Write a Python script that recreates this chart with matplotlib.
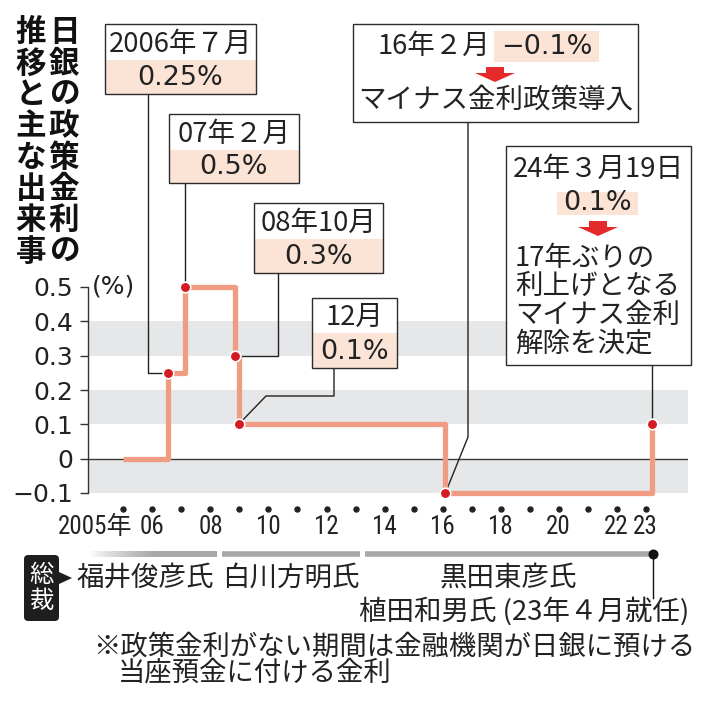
import numpy as np
import matplotlib
matplotlib.use('Agg')
import matplotlib.pyplot as plt
from matplotlib import font_manager
from matplotlib.patches import Rectangle, Polygon, FancyBboxPatch
from matplotlib.lines import Line2D
from matplotlib.transforms import blended_transform_factory

# ---------------- data ----------------
change_dates = [2005.0, 2006.54, 2007.13, 2008.83, 2008.97, 2016.1, 2024.2]
policy_rates = [0.0, 0.25, 0.5, 0.3, 0.1, -0.1, 0.1]
ytick_values = [-0.1, 0.0, 0.1, 0.2, 0.3, 0.4, 0.5]
ytick_labels = ['−0.1', '0', '0.1', '0.2', '0.3', '0.4', '0.5']
band_ranges = [(0.3, 0.4), (0.1, 0.2), (-0.1, 0.0)]
year_dots = list(range(2005, 2024))
xtick_years = [2005, 2006, 2008, 2010, 2012, 2014, 2016, 2018, 2020, 2022, 2023]
xtick_labels = ['2005年', '06', '08', '10', '12', '14', '16', '18', '20', '22', '23']
governors = ['福井俊彦氏', '白川方明氏', '黒田東彦氏']
term_starts = [2003.22, 2008.30, 2013.25]
term_ends = [2008.30, 2013.25, 2023.27]
ueda_start = 2023.27
ueda_label = '植田和男氏 (23年４月就任)'
ann_headers = ['2006年７月', '07年２月', '08年10月', '12月', '16年２月', '24年３月19日']
ann_values = ['0.25%', '0.5%', '0.3%', '0.1%', '−0.1%', '0.1%']
note_2016 = 'マイナス金利政策導入'
note_2024 = ['17年ぶりの', '利上げとなる', 'マイナス金利', '解除を決定']
title_right = '日銀の政策金利の'
title_left = '推移と主な出来事'
footnote = ['※政策金利がない期間は金融機関が日銀に預ける', '当座預金に付ける金利']

# ---------------- style ----------------
available = {f.name for f in font_manager.fontManager.ttflist}
narrow = next((n for n in ['Liberation Sans Narrow', 'Roboto Condensed', 'Liberation Sans']
               if n in available), 'DejaVu Sans')
CJK = ['Noto Sans CJK JP', 'DejaVu Sans']
NUM = ['DejaVu Sans']
XT = [narrow, 'Noto Sans CJK JP']
XT_SIZE = 18
LINE_C = '#F09C83'
DOT_C = '#D41A23'
BAND_C = '#E6E7E8'
PEACH = '#FBE3D6'
ARROW_C = '#E42A2A'
INK = '#222222'
TXT = 19.8

W, H = 705, 702
fig = plt.figure(figsize=(W / 100, H / 100), dpi=100)
fig.patch.set_facecolor('white')


def fx(px):
    return px / W


def fy(py):
    return 1 - py / H


AX_L, AX_R, AX_T, AX_B = 88, 688, 287, 493
PX_PER_YEAR, X2005 = 29.0, 123.5
lin_left = 2005 + (AX_L - X2005) / PX_PER_YEAR
lin_right = 2005 + (AX_R - X2005) / PX_PER_YEAR

K = 0.2


def fwd(t):
    t = np.asarray(t, dtype=float)
    return np.where(t <= 2023, t, 2023 + (t - 2023) * K)


def inv(u):
    u = np.asarray(u, dtype=float)
    return np.where(u <= 2023, u, 2023 + (u - 2023) / K)


ax = fig.add_axes([fx(AX_L), fy(AX_B), fx(AX_R) - fx(AX_L), fy(AX_T) - fy(AX_B)])
ax.set_xscale('function', functions=(fwd, inv))
ax.set_xlim(lin_left, float(inv(lin_right)))
ax.set_ylim(-0.1, 0.5)
ax.autoscale(False)

for lo, hi in band_ranges:
    ax.axhspan(lo, hi, color=BAND_C, lw=0, zorder=0)
ax.axhline(0, color='#3a3a3a', lw=1.0, zorder=1)

for s in ['top', 'right', 'bottom']:
    ax.spines[s].set_visible(False)
ax.spines['left'].set_color('#333333')
ax.spines['left'].set_linewidth(1.0)
ax.set_xticks([])
ax.set_yticks(ytick_values)
ax.set_yticklabels(ytick_labels, fontsize=18, family=NUM, color=INK)
ax.tick_params(axis='y', length=5.8, width=1.0, pad=5, color='#333333')

ax.step(change_dates, policy_rates, where='post', color=LINE_C, lw=3.8,
        solid_joinstyle='round', solid_capstyle='butt', clip_on=False, zorder=4)
ax.plot(change_dates[1:], policy_rates[1:], 'o', ms=7.6, mfc=DOT_C, mec='white',
        mew=1.2, clip_on=False, zorder=6)

ax.text(fwd(lin_left) + (92 - AX_L) / PX_PER_YEAR, 0.5, '(%)', fontsize=18,
        family=NUM, color=INK, ha='left', va='center')

trans_xd = blended_transform_factory(ax.transData, fig.transFigure)
ax.add_line(Line2D(year_dots, [fy(509)] * len(year_dots), transform=trans_xd,
                   linestyle='none', marker='o', ms=3.6, color=INK, clip_on=False))
for yr, lab in zip(xtick_years, xtick_labels):
    if lab.endswith('年'):
        ax.text(yr + 0.3, fy(527), lab, transform=trans_xd, ha='right', va='center',
                fontsize=XT_SIZE, family=XT, color=INK)
    else:
        ax.text(yr, fy(527), lab, transform=trans_xd, ha='center', va='center',
                fontsize=XT_SIZE, family=XT, color=INK)


def dot_px(i):
    d = ax.transData.transform((change_dates[i], policy_rates[i]))
    return d[0], H - d[1]


def leader(points):
    ax.add_line(Line2D([fx(p[0]) for p in points], [fy(p[1]) for p in points],
                       transform=fig.transFigure, color=INK, lw=1.0,
                       clip_on=False, zorder=3))


def rect(x0, y0, x1, y1, fc, ec='none', lw=0, z=1.0):
    r = Rectangle((fx(x0), fy(y1)), fx(x1) - fx(x0), fy(y0) - fy(y1),
                  transform=fig.transFigure, facecolor=fc, edgecolor=ec, lw=lw, zorder=z)
    fig.add_artist(r)


def box(x0, y0, x1, y1, split=None):
    rect(x0, y0, x1, y1, 'white', z=1.0)
    if split is not None:
        rect(x0, split, x1, y1, PEACH, z=1.1)
    rect(x0, y0, x1, y1, 'none', ec='#2b2b2b', lw=1.0, z=1.2)


def ftext(x, y, s, fam=CJK, size=TXT, ha='center', color=INK, weight='normal'):
    fig.text(fx(x), fy(y), s, family=fam, fontsize=size, ha=ha, va='center',
             color=color, fontweight=weight, zorder=5)


def red_arrow(cx, top):
    pts = [(cx - 9, top), (cx + 9, top), (cx + 9, top + 6), (cx + 20, top + 6),
           (cx, top + 15), (cx - 20, top + 6), (cx - 9, top + 6)]
    fig.add_artist(Polygon([(fx(a), fy(b)) for a, b in pts], closed=True,
                           transform=fig.transFigure, facecolor=ARROW_C,
                           edgecolor='none', zorder=2))


# --- annotation boxes ---
box(105, 24, 256, 94, split=60)
ftext(180.5, 44, ann_headers[0])
ftext(180.5, 78, ann_values[0], fam=NUM, size=19.5)
dx, dy = dot_px(1)
leader([(148, 94), (148, dy), (dx, dy)])

box(169, 114, 299, 183, split=150)
ftext(234, 134, ann_headers[1])
ftext(234, 167, ann_values[1], fam=NUM, size=19.5)
dx, dy = dot_px(2)
leader([(dx, 183), (dx, dy)])

box(254, 203, 383, 273, split=239)
ftext(318.5, 223, ann_headers[2])
ftext(318.5, 257, ann_values[2], fam=NUM, size=19.5)
dx, dy = dot_px(3)
leader([(278, 273), (278, dy), (dx, dy)])

box(312, 298, 397, 368, split=333)
ftext(354.5, 317, ann_headers[3])
ftext(354.5, 352, ann_values[3], fam=NUM, size=19.5)
dx, dy = dot_px(4)
leader([(334, 368), (334, 396), (266, 396), (dx, dy)])

box(353, 24, 638, 122)
ftext(433.5, 46, ann_headers[4])
rect(494, 31, 599, 62, PEACH, z=1.3)
ftext(546.5, 47, ann_values[4], fam=NUM, size=19.5)
red_arrow(495, 67)
ftext(495.5, 100, note_2016)
dx, dy = dot_px(5)
leader([(468, 122), (468, 437), (dx, dy)])

box(506, 146, 691, 365)
ftext(598, 169, ann_headers[5])
rect(557, 192, 638, 215, PEACH, z=1.3)
ftext(597.5, 203.5, ann_values[5], fam=NUM, size=19.5)
red_arrow(598, 221)
for k, line in enumerate(note_2024):
    ftext(515, 258 + 28.6 * k, line, ha='left')
dx, dy = dot_px(6)
leader([(dx, 365), (dx, dy)])

# --- vertical title ---
for k, ch in enumerate(title_right):
    ftext(64, 32 + 31.4 * k, ch, size=22, weight='bold', color='#111111')
for k, ch in enumerate(title_left):
    ftext(31, 32 + 31.4 * k, ch, size=22, weight='bold', color='#111111')

# --- governors timeline ---
ax2 = fig.add_axes([fx(AX_L), fy(564), fx(AX_R) - fx(AX_L), fy(544) - fy(564)])
ax2.set_xlim(lin_left, lin_right)
ax2.set_ylim(-1, 1)
ax2.axis('off')
GAP = 0.08
BAR_C = np.array([0.66, 0.66, 0.66])
for i, (s, e) in enumerate(zip(term_starts, term_ends)):
    if s < lin_left:
        x0 = lin_left + 0.07
        x1 = e - GAP
        n = 200
        xs = np.linspace(x0, x1, n)
        alpha = np.clip((xs - x0) / 2.2, 0, 1) ** 0.8
        img = np.zeros((1, n, 4))
        img[0, :, :3] = BAR_C
        img[0, :, 3] = alpha
        ax2.imshow(img, extent=[x0, x1, -0.28, 0.28], aspect='auto', zorder=2,
                   interpolation='bilinear')
    else:
        ax2.plot([s + GAP, e - GAP], [0, 0], color=BAR_C, lw=4.0,
                 solid_capstyle='butt', zorder=2)
ax2.set_xlim(lin_left, lin_right)
ax2.set_ylim(-1, 1)
ax2.plot([ueda_start], [0], 'o', ms=6.2, color='#111111', clip_on=False, zorder=3)
trans2 = blended_transform_factory(ax2.transData, fig.transFigure)
ax2.add_line(Line2D([ueda_start, ueda_start], [fy(554), fy(598)], transform=trans2,
                    color='#111111', lw=1.0, clip_on=False))
for name, s, e in zip(governors, term_starts, term_ends):
    ax2.text((s + e) / 2, fy(578), name, transform=trans2, ha='center', va='center',
             fontsize=TXT, family=CJK, color=INK)
ftext(689, 611, ueda_label, ha='right')

# 総裁 label
fig.add_artist(FancyBboxPatch((fx(24), fy(621)), fx(59) - fx(24), fy(555) - fy(621),
                              boxstyle='round,pad=0,rounding_size=0.006',
                              transform=fig.transFigure, facecolor='#1e1e1e',
                              edgecolor='none', zorder=1))
ftext(41.5, 575, '総', size=17.5, color='white')
ftext(41.5, 601, '裁', size=17.5, color='white')
fig.add_artist(Polygon([(fx(59), fy(572)), (fx(72), fy(578)), (fx(59), fy(584))],
                       closed=True, transform=fig.transFigure, facecolor='#1e1e1e',
                       edgecolor='none', zorder=1))

# footnote
ftext(93, 647, footnote[0], ha='left', size=19.7)
ftext(118, 673, footnote[1], ha='left', size=19.7)

fig.savefig('out.png', dpi=100)
